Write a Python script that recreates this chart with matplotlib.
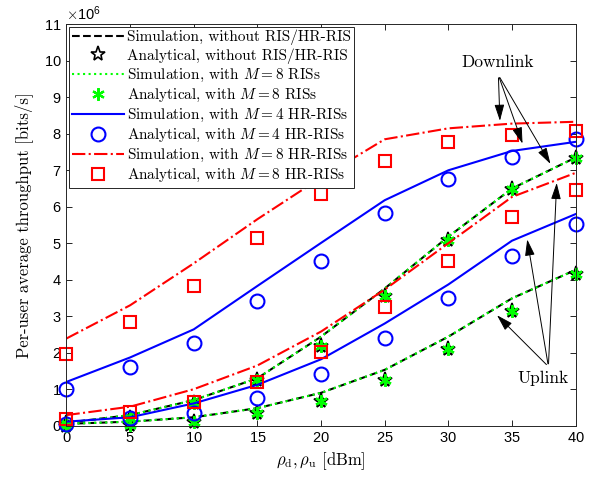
import numpy as np
import matplotlib
matplotlib.use("Agg")
import matplotlib.pyplot as plt
from matplotlib import ticker

plt.rcParams['mathtext.fontset'] = 'cm'
plt.rcParams['axes.formatter.use_mathtext'] = True
plt.rcParams['font.family'] = ['Liberation Sans', 'DejaVu Sans']

# transmit power [dBm]
rho = [0, 5, 10, 15, 20, 25, 30, 35, 40]

# downlink throughput (x1e6 bits/s)
sim_noris_dl = [0.08, 0.29, 0.70, 1.30, 2.44, 3.76, 5.18, 6.50, 7.35]
ana_noris_dl = [0.07, 0.22, 0.62, 1.25, 2.17, 3.55, 5.09, 6.50, 7.35]
sim_ris_dl = [0.08, 0.29, 0.70, 1.30, 2.44, 3.76, 5.18, 6.50, 7.35]
ana_ris_dl = [0.07, 0.22, 0.62, 1.25, 2.17, 3.55, 5.09, 6.50, 7.35]
sim_hr4_dl = [1.20, 1.87, 2.64, 3.83, 5.01, 6.18, 7.00, 7.53, 7.78]
ana_hr4_dl = [1.00, 1.62, 2.27, 3.42, 4.52, 5.84, 6.76, 7.37, 7.85]
sim_hr8_dl = [2.39, 3.30, 4.45, 5.66, 6.80, 7.85, 8.15, 8.28, 8.33]
ana_hr8_dl = [1.96, 2.83, 3.83, 5.15, 6.35, 7.26, 7.77, 7.97, 8.08]

# uplink throughput (x1e6 bits/s)
sim_noris_ul = [0.05, 0.11, 0.23, 0.48, 0.90, 1.53, 2.44, 3.49, 4.27]
ana_noris_ul = [0.00, 0.02, 0.11, 0.34, 0.68, 1.25, 2.09, 3.15, 4.17]
sim_ris_ul = [0.05, 0.11, 0.23, 0.48, 0.90, 1.53, 2.44, 3.49, 4.27]
ana_ris_ul = [0.00, 0.02, 0.11, 0.34, 0.68, 1.25, 2.09, 3.15, 4.17]
sim_hr4_ul = [0.11, 0.23, 0.61, 1.12, 1.82, 2.80, 3.87, 5.07, 5.80]
ana_hr4_ul = [0.05, 0.20, 0.34, 0.77, 1.42, 2.39, 3.49, 4.66, 5.53]
sim_hr8_ul = [0.29, 0.52, 1.00, 1.65, 2.58, 3.73, 5.00, 6.27, 6.93]
ana_hr8_ul = [0.17, 0.375, 0.65, 1.20, 2.03, 3.26, 4.52, 5.73, 6.46]

labels = ['Simulation, without RIS/HR-RIS',
          'Analytical, without RIS/HR-RIS',
          r'Simulation, with $M=8$ RISs',
          r'Analytical, with $M=8$ RISs',
          r'Simulation, with $M=4$ HR-RISs',
          r'Analytical, with $M=4$ HR-RISs',
          r'Simulation, with $M=8$ HR-RISs',
          r'Analytical, with $M=8$ HR-RISs']

x = np.array(rho)
s = 1e6

fig = plt.figure(figsize=(5.99, 4.78), dpi=100)
ax = fig.add_axes([0.111, 0.1095, 0.850, 0.8395])

styles = [
    dict(color='k', ls='--', lw=1.5),
    dict(color='k', ls='none', marker='*', ms=11, mfc='none', mec='k', mew=1.2, clip_on=False),
    dict(color=(0, 1, 0), ls=':', lw=1.5),
    dict(color=(0, 1, 0), ls='none', marker=(6, 2, 0), ms=9, mew=1.6, clip_on=False),
    dict(color=(0, 0, 1), ls='-', lw=1.5),
    dict(color=(0, 0, 1), ls='none', marker='o', ms=10, mfc='none', mew=1.5, clip_on=False),
    dict(color=(1, 0, 0), ls='-.', lw=1.5),
    dict(color=(1, 0, 0), ls='none', marker='s', ms=8, mfc='none', mew=1.5, clip_on=False),
]
series = [
    (sim_noris_dl, sim_noris_ul), (ana_noris_dl, ana_noris_ul),
    (sim_ris_dl, sim_ris_ul), (ana_ris_dl, ana_ris_ul),
    (sim_hr4_dl, sim_hr4_ul), (ana_hr4_dl, ana_hr4_ul),
    (sim_hr8_dl, sim_hr8_ul), (ana_hr8_dl, ana_hr8_ul),
]
handles = []
for (dl, ul), st, lab in zip(series, styles, labels):
    h, = ax.plot(x, np.array(dl) * s, label=lab, **st)
    ax.plot(x, np.array(ul) * s, **st)
    handles.append(h)

ax.set_xlim(0, 40)
ax.set_ylim(0, 11e6)
ax.set_xticks(rho)
ax.set_yticks(np.arange(0, 12) * s)
fmt = ticker.ScalarFormatter(useMathText=True)
fmt.set_powerlimits((6, 6))
ax.yaxis.set_major_formatter(fmt)
ax.tick_params(direction='in', top=True, right=True, labelsize=10.5, width=0.6, length=4)
for sp in ax.spines.values():
    sp.set_linewidth(0.7)
    sp.set_color('#262626')
ax.yaxis.get_offset_text().set_fontsize(10.5)

ax.set_xlabel(r'$\rho_\mathrm{d}, \rho_\mathrm{u}$ [dBm]', family='cmr10', fontsize=12, labelpad=4)
ax.set_ylabel('Per-user average throughput [bits/s]', family='cmr10', fontsize=12, labelpad=8)

leg = ax.legend(handles=handles, loc='upper left', prop={'family': 'cmr10', 'size': 11},
                handlelength=3.4, handletextpad=0.2, borderaxespad=0.15, labelspacing=0.2,
                fancybox=False, edgecolor='#262626', framealpha=1, borderpad=0.2)
leg.get_frame().set_linewidth(0.7)

arr = dict(arrowstyle='-|>,head_length=1.0,head_width=0.3', color='k', lw=0.7)
ax.text(33.85, 9.96e6, 'Downlink', family='cmr10', fontsize=12.5, ha='center', va='center')
for hx, hy in [(34.06, 8.28), (35.9, 7.66), (38.13, 7.11)]:
    ax.annotate('', xy=(hx, hy * s), xytext=(33.93, 9.61e6), arrowprops=arr)
ax.text(37.47, 1.30e6, 'Uplink', family='cmr10', fontsize=12.5, ha='center', va='center')
for hx, hy in [(33.67, 3.08), (36.16, 5.18), (38.52, 6.73)]:
    ax.annotate('', xy=(hx, hy * s), xytext=(37.86, 1.62e6), arrowprops=arr)

fig.savefig('out.png', dpi=100)
